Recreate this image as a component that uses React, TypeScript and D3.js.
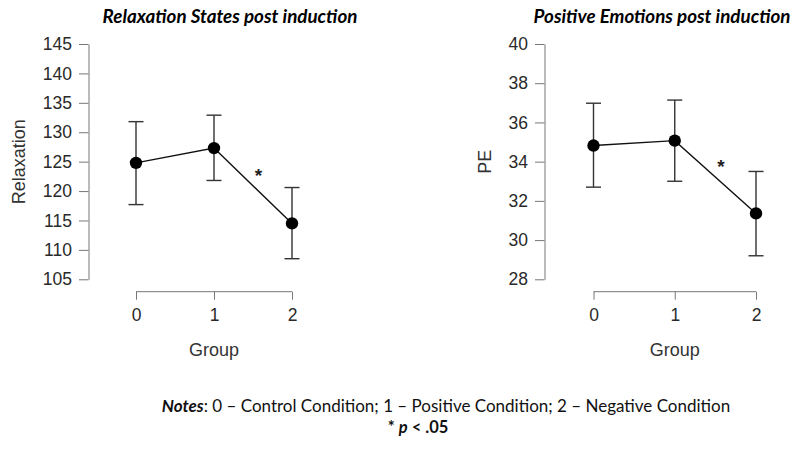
import React, { useEffect, useRef } from "react";
import * as d3 from "d3";

const groups = ["0", "1", "2"];

const relaxMean = [124.8, 127.3, 114.5];
const relaxLow = [117.7, 121.8, 108.5];
const relaxHigh = [131.8, 132.9, 120.6];
const relaxTicks = [105, 110, 115, 120, 125, 130, 135, 140, 145];

const peMean = [34.82, 35.07, 31.36];
const peLow = [32.7, 33.0, 29.2];
const peHigh = [36.98, 37.14, 33.5];
const peTicks = [28, 30, 32, 34, 36, 38, 40];

const panels = [
  {
    title: "Relaxation States post induction",
    ylabel: "Relaxation",
    mean: relaxMean,
    low: relaxLow,
    high: relaxHigh,
    ticks: relaxTicks,
    axisX: 88.5,
    x0: 136,
    x2: 292,
    labelX: 25,
    titleX: 230,
  },
  {
    title: "Positive Emotions post induction",
    ylabel: "PE",
    mean: peMean,
    low: peLow,
    high: peHigh,
    ticks: peTicks,
    axisX: 544.5,
    x0: 593.5,
    x2: 756,
    labelX: 491,
    titleX: 662,
  },
];

const App = () => {
  const svgEl = useRef(null);

  useEffect(() => {
    const svg = d3.select(svgEl.current);
    svg.selectAll("*").remove();

    const top = 44,
      bottom = 279.3;
    const sans = "'Liberation Sans', Arial, sans-serif";
    const calib = "Lato, 'Open Sans', sans-serif";

    panels.forEach((p) => {
      const y = d3
        .scaleLinear()
        .domain([p.ticks[0], p.ticks[p.ticks.length - 1]])
        .range([bottom, top]);
      const x = d3.scalePoint().domain(groups).range([p.x0, p.x2]);
      const g = svg.append("g");

      // title
      g.append("text")
        .attr("x", p.titleX)
        .attr("y", 23)
        .attr("text-anchor", "middle")
        .style("font-family", calib)
        .style("font-weight", "bold")
        .style("font-style", "italic")
        .style("font-size", "18.8px")
        .text(p.title);

      // y axis
      const yAxis = g
        .append("g")
        .attr("transform", `translate(${p.axisX},0)`)
        .call(d3.axisLeft(y).tickValues(p.ticks).tickSize(9.5).tickPadding(7).tickSizeOuter(0));
      yAxis.select(".domain").attr("stroke", "#777");
      yAxis.selectAll(".tick line").attr("stroke", "#777");
      yAxis
        .selectAll(".tick text")
        .attr("fill", "#2a2a2a")
        .style("font-family", sans)
        .style("font-size", "17.5px");

      // x axis
      const xAxis = g
        .append("g")
        .attr("transform", `translate(0,291.7)`)
        .call(d3.axisBottom(x).tickSize(8).tickPadding(9).tickSizeOuter(0));
      xAxis.select(".domain").attr("stroke", "#777").attr("d", `M${p.x0},0H${p.x2}`);
      xAxis.selectAll(".tick line").attr("stroke", "#777");
      xAxis
        .selectAll(".tick text")
        .attr("fill", "#2a2a2a")
        .style("font-family", sans)
        .style("font-size", "17.5px");

      // axis labels
      g.append("text")
        .attr("x", (p.x0 + p.x2) / 2)
        .attr("y", 356)
        .attr("text-anchor", "middle")
        .attr("fill", "#333")
        .style("font-family", sans)
        .style("font-size", "18px")
        .text("Group");

      g.append("text")
        .attr("transform", `translate(${p.labelX},${(top + bottom) / 2}) rotate(-90)`)
        .attr("text-anchor", "middle")
        .attr("fill", "#333")
        .style("font-family", sans)
        .style("font-size", "18px")
        .text(p.ylabel);

      // error bars
      const capW = 7.5;
      groups.forEach((gr, i) => {
        const cx = x(gr);
        g.append("line")
          .attr("x1", cx).attr("x2", cx)
          .attr("y1", y(p.low[i])).attr("y2", y(p.high[i]))
          .attr("stroke", "#333").attr("stroke-width", 1.4);
        [p.low[i], p.high[i]].forEach((v) => {
          g.append("line")
            .attr("x1", cx - capW).attr("x2", cx + capW)
            .attr("y1", y(v)).attr("y2", y(v))
            .attr("stroke", "#333").attr("stroke-width", 1.4);
        });
      });

      // line
      const line = d3
        .line()
        .x((d, i) => x(groups[i]))
        .y((d) => y(d));
      g.append("path")
        .datum(p.mean)
        .attr("d", line)
        .attr("fill", "none")
        .attr("stroke", "#111")
        .attr("stroke-width", 1.4);

      g.selectAll(".dot")
        .data(p.mean)
        .enter()
        .append("circle")
        .attr("cx", (d, i) => x(groups[i]))
        .attr("cy", (d) => y(d))
        .attr("r", 6.2)
        .attr("fill", "#000");

      // significance star, beside the 1 -> 2 segment
      const sx = (x("1") + x("2")) / 2 + 5.5;
      const sy = (y(p.mean[1]) + y(p.mean[2])) / 2 - 4;
      g.append("text")
        .attr("x", sx)
        .attr("y", sy)
        .attr("text-anchor", "middle")
        .style("font-family", sans)
        .style("font-size", "19px")
        .style("font-weight", "bold")
        .attr("fill", "#222")
        .text("*");
    });

    // notes
    const notes = svg
      .append("text")
      .attr("x", 446)
      .attr("y", 412)
      .attr("text-anchor", "middle")
      .style("font-family", calib)
      .style("font-size", "17px")
      .attr("fill", "#111");
    notes.append("tspan").style("font-weight", "bold").style("font-style", "italic").text("Notes");
    notes.append("tspan").text(": 0 \u2013 Control Condition; 1 \u2013 Positive Condition; 2 \u2013 Negative Condition");

    const pn = svg
      .append("text")
      .attr("x", 418)
      .attr("y", 433)
      .attr("text-anchor", "middle")
      .style("font-family", calib)
      .style("font-size", "16.5px")
      .style("font-weight", "bold")
      .attr("fill", "#111");
    pn.append("tspan").text("* ");
    pn.append("tspan").style("font-style", "italic").text("p");
    pn.append("tspan").text(" < .05");
  }, [svgEl]);

  return (
    <svg
      ref={svgEl}
      width={794}
      height={468}
      style={{ position: "absolute", left: 0, top: 0, background: "#fff" }}
    ></svg>
  );
};

export default App;
